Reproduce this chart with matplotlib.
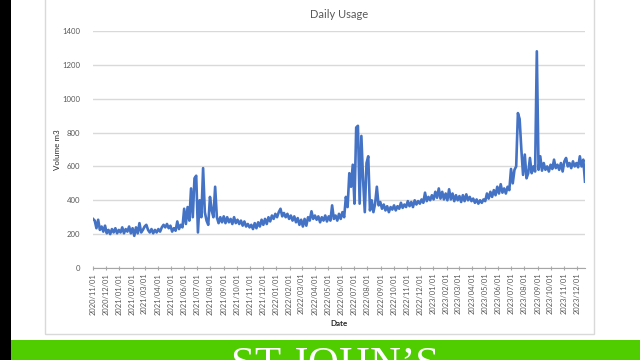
import matplotlib
matplotlib.use("Agg")
import matplotlib.pyplot as plt
import matplotlib.dates as mdates
from matplotlib.patches import Rectangle
import pandas as pd

# daily usage, one value every 4 days from 2020/11/01
usage = [
    290, 280, 235, 285, 225, 245, 215, 250,            # 2020/11
    205, 225, 200, 230, 210, 235, 205, 225,            # 2020/12
    210, 240, 205, 230, 215, 245, 205,                 # 2021/01
    235, 190, 240, 205, 265, 210, 225,                 # 2021/02
    245, 255, 225, 210, 230, 205, 225, 210,            # 2021/03
    230, 215, 240, 255, 240, 260, 235, 250,            # 2021/04
    215, 235, 220, 275, 230, 255, 240,                 # 2021/05
    350, 260, 360, 280, 470, 300, 530, 545,            # 2021/06
    210, 400, 300, 590, 330, 280, 255, 420,            # 2021/07
    340, 300, 480, 300, 265, 300, 270,                 # 2021/08
    305, 265, 300, 270, 290, 260, 300, 265,            # 2021/09
    285, 260, 280, 250, 275, 245, 260, 240,            # 2021/10
    255, 230, 265, 235, 270, 245, 285,                 # 2021/11
    255, 290, 260, 300, 275, 310, 290, 320,            # 2021/12
    300, 330, 350, 305, 325, 300, 320, 290,            # 2022/01
    310, 280, 305, 270, 295, 255, 285,                 # 2022/02
    245, 290, 250, 300, 280, 335, 290,                 # 2022/03
    310, 285, 305, 270, 300, 280, 310, 275,            # 2022/04
    305, 280, 370, 290, 310, 280, 320, 290,            # 2022/05
    330, 300, 420, 360, 560, 480, 610,                 # 2022/06
    380, 830, 840, 380, 780, 520, 330, 620,            # 2022/07
    660, 340, 400, 330, 380, 480, 370, 390,            # 2022/08
    350, 375, 340, 365, 330, 360, 345,                 # 2022/09
    370, 340, 365, 350, 385, 355, 375, 360,            # 2022/10
    395, 365, 390, 360, 400, 375, 395,                 # 2022/11
    380, 405, 385, 445, 395, 420, 400, 430,            # 2022/12
    405, 450, 415, 470, 410, 450, 405, 440,            # 2023/01
    400, 465, 405, 440, 395, 430, 400,                 # 2023/02
    425, 390, 430, 395, 435, 400, 420, 395,            # 2023/03
    410, 385, 405, 380, 400, 385, 405,                 # 2023/04
    395, 440, 410, 450, 420, 460, 430, 480,            # 2023/05
    440, 495, 445, 470, 440, 480, 460,                 # 2023/06
    585, 500, 580, 600, 915, 880, 700, 550,            # 2023/07
    670, 530, 560, 650, 560, 600, 570, 1280,           # 2023/08
    580, 660, 575, 620, 580, 600, 570,                 # 2023/09
    610, 585, 640, 590, 610, 580, 620, 570,            # 2023/10
    630, 650, 600, 620, 590, 630, 600, 620,            # 2023/11
    595, 660, 600, 640, 510,                           # 2023/12
]
dates = pd.date_range("2020-11-01", periods=len(usage), freq="4D")
month_ticks = pd.date_range("2020-11-01", "2023-12-01", freq="MS")

plt.rcParams["font.family"] = ["Lato", "DejaVu Sans"]

fig = plt.figure(figsize=(6.4, 3.6), dpi=100)
fig.patch.set_facecolor("white")

# screenshot frame: black strip, chart border, green banner
fig.patches.append(Rectangle((0, 0), 11 / 640, 1, transform=fig.transFigure,
                             facecolor="black", edgecolor="none", zorder=0))
fig.patches.append(Rectangle((45 / 640, 1 - 334 / 360), 549 / 640, 1,
                             transform=fig.transFigure, facecolor="none",
                             edgecolor="#d9d9d9", lw=1, zorder=0))
fig.patches.append(Rectangle((11 / 640, 0), 1, 20 / 360, transform=fig.transFigure,
                             facecolor="#50cd00", edgecolor="none", zorder=1))
fig.text(335 / 640, 1 - 347 / 360, "ST JOHN\u2019S", color="white",
         fontsize=31, family="Liberation Serif", ha="center", va="top", zorder=2)

ax = fig.add_axes([93 / 640, 1 - 268 / 360, 492 / 640, 237 / 360])
ax.plot(dates, usage, color="#4472c4", lw=1.9)

ax.set_ylim(0, 1400)
ax.set_yticks(range(0, 1401, 200))
ax.set_xlim(dates[0], dates[-1])
ax.set_xticks(month_ticks)
ax.xaxis.set_major_formatter(mdates.DateFormatter("%Y/%m/%d"))
ax.tick_params(axis="x", labelrotation=90, labelsize=5.4, colors="#595959",
               length=3, direction="inout", pad=2, color="#a6a6a6")
ax.tick_params(axis="y", labelsize=5.6, colors="#595959", length=0, pad=9)
ax.grid(axis="y", color="#d9d9d9", lw=1)
ax.set_axisbelow(True)
for side in ["top", "right", "left"]:
    ax.spines[side].set_visible(False)
ax.spines["bottom"].set_color("#a6a6a6")

ax.set_title("Daily Usage", fontsize=8, color="#595959", pad=9)
ax.set_xlabel("Date", fontsize=5.8, fontweight="bold", color="#262626", labelpad=4)
ax.set_ylabel("Volume m3", fontsize=5.8, color="#262626", labelpad=1)

fig.savefig("out.png", dpi=100)
